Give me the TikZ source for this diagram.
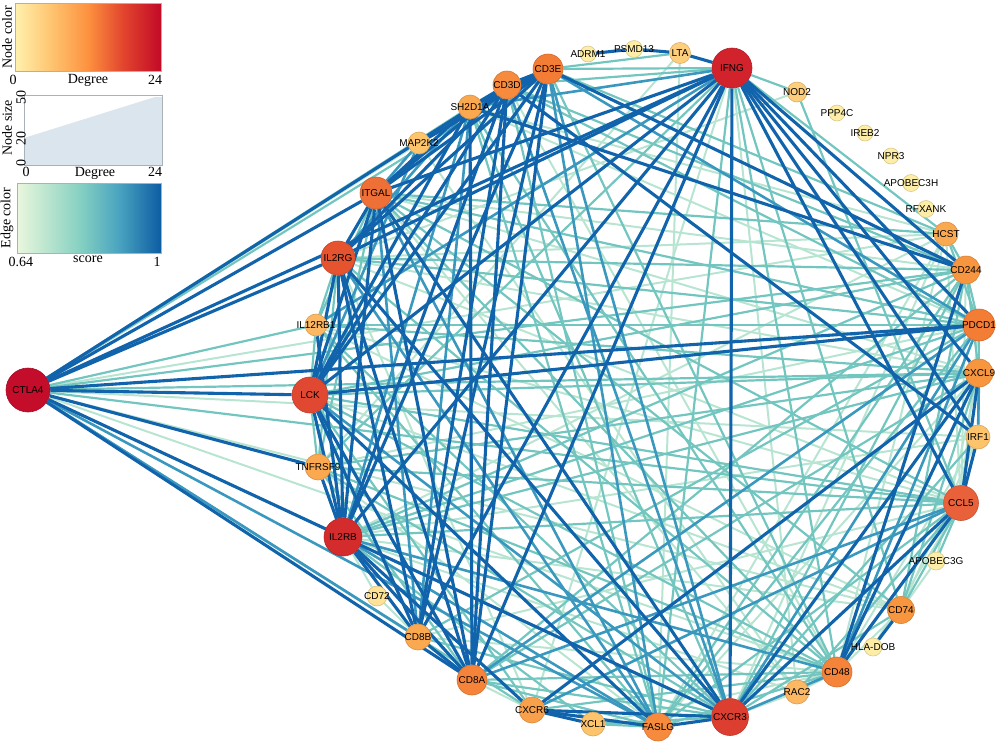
\documentclass[tikz,border=0pt]{standalone}
\usepackage{fontspec}
\setmainfont{Liberation Serif}
\newfontfamily\arialf{Liberation Sans}
\usetikzlibrary{backgrounds}
\definecolor{c1}{HTML}{C30D2B}
\definecolor{c2}{HTML}{D2232C}
\definecolor{c2b}{HTML}{D42B2C}
\definecolor{c3}{HTML}{DC3F30}
\definecolor{c4}{HTML}{E14832}
\definecolor{c5}{HTML}{E5532F}
\definecolor{c6}{HTML}{E8613A}
\definecolor{c7}{HTML}{EF7036}
\definecolor{c8}{HTML}{F47D35}
\definecolor{c9}{HTML}{F5843A}
\definecolor{c10}{HTML}{F78B3D}
\definecolor{c11}{HTML}{F8963F}
\definecolor{c12}{HTML}{F9A14A}
\definecolor{c13}{HTML}{FBA951}
\definecolor{c14}{HTML}{FCB862}
\definecolor{c15}{HTML}{FDC46B}
\definecolor{c16}{HTML}{FDCE7C}
\definecolor{c17}{HTML}{FEE295}
\definecolor{c18}{HTML}{FEEDA6}
\definecolor{ecd}{HTML}{1163AB}
\definecolor{ecm}{HTML}{3A98BF}
\definecolor{ect}{HTML}{72C6BF}
\definecolor{ecl}{HTML}{B8E4D2}
\definecolor{yl0}{HTML}{FFF1AE}
\definecolor{yl1}{HTML}{FEC672}
\definecolor{yl2}{HTML}{FD913F}
\definecolor{yl3}{HTML}{E2452D}
\definecolor{yl4}{HTML}{C20A28}
\definecolor{gb0}{HTML}{EAF7DD}
\definecolor{gb1}{HTML}{B3E2CD}
\definecolor{gb2}{HTML}{85D0C2}
\definecolor{gb3}{HTML}{4BA5C0}
\definecolor{gb4}{HTML}{0C5DA3}
\definecolor{boxgray}{HTML}{A9B1B9}
\definecolor{sizefill}{HTML}{DAE5EE}
\pgfdeclarehorizontalshading{nodecolsh}{100bp}{color(0bp)=(yl0); color(25bp)=(yl0); color(37bp)=(yl1); color(50bp)=(yl2); color(62bp)=(yl3); color(75bp)=(yl4); color(100bp)=(yl4)}
\pgfdeclarehorizontalshading{edgecolsh}{100bp}{color(0bp)=(gb0); color(25bp)=(gb0); color(37bp)=(gb1); color(47bp)=(gb2); color(60bp)=(gb3); color(75bp)=(gb4); color(100bp)=(gb4)}
\tikzset{
  lab/.style={font=\arialf\fontsize{10}{10}\selectfont, text=black, inner sep=0pt},
  gn/.style n args={3}{circle, inner sep=0pt, minimum size=#1pt, fill=#2, draw=#2!85!black, line width=0.6pt, label={[lab]center:#3}},
  eL/.style={draw=ecl, line width=2pt},
  eT/.style={draw=ect, line width=2.2pt},
  eM/.style={draw=ecm, line width=2.6pt},
  eD/.style={draw=ecd, line width=3.1pt},
  legtxt/.style={font=\fontsize{14}{14}\selectfont, inner sep=0pt},
  legbox/.style={draw=boxgray, line width=1pt}
}
\begin{document}
\begin{tikzpicture}[x=1pt,y=-1pt]
\useasboundingbox (0,0) rectangle (1000,745);
% nodes
\node[gn={44}{c1}{CTLA4}] (CTLA4) at (28,390) {};
\node[gn={40}{c2}{IFNG}] (IFNG) at (732,68) {};
\node[gn={38}{c2b}{IL2RB}] (IL2RB) at (343,537) {};
\node[gn={37}{c3}{CXCR3}] (CXCR3) at (730,717) {};
\node[gn={36}{c4}{LCK}] (LCK) at (310,395) {};
\node[gn={34}{c5}{IL2RG}] (IL2RG) at (338,258) {};
\node[gn={35}{c6}{CCL5}] (CCL5) at (961,503) {};
\node[gn={32}{c7}{ITGAL}] (ITGAL) at (376,193) {};
\node[gn={32}{c8}{PDCD1}] (PDCD1) at (979,325) {};
\node[gn={30}{c8}{CD3E}] (CD3E) at (548,69) {};
\node[gn={30}{c9}{CD8A}] (CD8A) at (472,680) {};
\node[gn={30}{c9}{CD48}] (CD48) at (837,672) {};
\node[gn={28}{c10}{CD3D}] (CD3D) at (507,85) {};
\node[gn={28}{c10}{FASLG}] (FASLG) at (658,727) {};
\node[gn={28}{c11}{CD244}] (CD244) at (966,270) {};
\node[gn={28}{c11}{CXCL9}] (CXCL9) at (979,373) {};
\node[gn={27}{c11}{CD74}] (CD74) at (901,610) {};
\node[gn={26}{c12}{CXCR6}] (CXCR6) at (532,710) {};
\node[gn={26}{c13}{TNFRSF9}] (TNFRSF9) at (318,467) {};
\node[gn={26}{c13}{CD8B}] (CD8B) at (418,637) {};
\node[gn={24}{c13}{SH2D1A}] (SH2D1A) at (470,107) {};
\node[gn={24}{c13}{HCST}] (HCST) at (946,234) {};
\node[gn={22}{c14}{IL12RB1}] (IL12RB1) at (316,325) {};
\node[gn={24}{c14}{RAC2}] (RAC2) at (797,692) {};
\node[gn={22}{c15}{MAP2K2}] (MAP2K2) at (419,143) {};
\node[gn={24}{c15}{IRF1}] (IRF1) at (978,437) {};
\node[gn={24}{c15}{XCL1}] (XCL1) at (593,724) {};
\node[gn={21}{c16}{LTA}] (LTA) at (680,53) {};
\node[gn={20}{c16}{NOD2}] (NOD2) at (797,92) {};
\node[gn={20}{c17}{CD72}] (CD72) at (377,596) {};
\node[gn={18}{c18}{HLA-DOB}] (HLADOB) at (873,647) {};
\node[gn={18}{c18}{APOBEC3G}] (APOBEC3G) at (936,561) {};
\node[gn={17}{c18}{RFXANK}] (RFXANK) at (926,209) {};
\node[gn={17}{c18}{APOBEC3H}] (APOBEC3H) at (911,183) {};
\node[gn={16}{c18}{NPR3}] (NPR3) at (891,156) {};
\node[gn={16}{c18}{IREB2}] (IREB2) at (865,133) {};
\node[gn={16}{c18}{PPP4C}] (PPP4C) at (837,113) {};
\node[gn={17}{c18}{PSMD13}] (PSMD13) at (634,49) {};
\node[gn={16}{c18}{ADRM1}] (ADRM1) at (588,54) {};
% edges
\begin{pgfonlayer}{background}
\foreach \a/\b in {CTLA4/MAP2K2, CTLA4/CD48, CTLA4/HCST, CTLA4/IRF1, CTLA4/CD74,
 IL2RG/CCL5, IL2RG/CXCL9, IL2RG/HCST, IL2RG/CXCR6, NOD2/IL2RG,
 LCK/CD74, IL2RB/CD72, IL2RB/RAC2, IL2RB/IRF1, IL2RB/HCST, IL2RB/CD74,
 CD8A/CXCR6, CD8B/CD48, CD8B/CCL5, CD8B/CD72, CD3D/CD48, SH2D1A/PDCD1, SH2D1A/HCST,
 ITGAL/CD244, ITGAL/CXCL9, ITGAL/RAC2, MAP2K2/RAC2, IFNG/CXCR6, IFNG/RAC2,
 LTA/FASLG, LTA/TNFRSF9, CXCR3/RAC2, CXCR3/HCST, FASLG/TNFRSF9, FASLG/CXCL9, FASLG/HCST,
 XCL1/CD48, CCL5/HLADOB, CCL5/CD244, CCL5/IL12RB1, CCL5/HCST, CD48/CD74, CD48/RAC2, CD48/HCST, CD48/IRF1,
 CD74/APOBEC3G, CD74/IRF1, CD74/IL12RB1, PDCD1/IRF1, PDCD1/TNFRSF9, PDCD1/CCL5, APOBEC3G/CXCL9}
 \draw[eL] (\a) -- (\b);
\foreach \a/\b in {CTLA4/CD3E, CTLA4/SH2D1A, CTLA4/IL12RB1, CTLA4/CXCR6, CTLA4/CXCR3, CTLA4/CCL5, CTLA4/CXCL9, CTLA4/CD244,
 IL2RG/IL12RB1, IL2RG/TNFRSF9, IL2RG/PDCD1, IL2RG/CD244, IL2RG/CD48,
 LCK/CD48, LCK/CD244, LCK/CXCL9, LCK/CCL5, LCK/TNFRSF9, LCK/IL12RB1, LCK/CXCR6,
 IL2RB/PDCD1, IL2RB/CD244, IL2RB/CCL5, IL2RB/CXCL9, IL2RB/XCL1,
 CD8A/CXCR3, CD8A/FASLG, CD8A/CD48, CD8A/CXCL9, CD8A/CD244, CD8A/TNFRSF9,
 CD8B/CXCR3, CD8B/PDCD1,
 CD3E/IFNG, CD3E/LTA, CD3E/CD48, CD3E/HCST,
 CD3D/IFNG, CD3D/FASLG, CD3D/PDCD1, CD3D/CD244,
 SH2D1A/CD48, SH2D1A/FASLG, SH2D1A/CXCR3, SH2D1A/MAP2K2,
 ITGAL/PDCD1, ITGAL/CCL5, ITGAL/CD48, ITGAL/HCST, ITGAL/CD74, ITGAL/IL12RB1, ITGAL/TNFRSF9,
 IFNG/NOD2, IFNG/FASLG, IFNG/CD48, IFNG/HCST, IFNG/CD74, IFNG/TNFRSF9,
 NOD2/CCL5,
 CXCR3/XCL1, CXCR3/CD244, CXCR3/IRF1, CXCR3/CD74, CXCR3/TNFRSF9, CXCR3/IL12RB1,
 FASLG/XCL1, FASLG/CD48, FASLG/CCL5, FASLG/PDCD1, FASLG/CD244, FASLG/IL12RB1,
 CXCR6/CD48, CCL5/CD74, CCL5/APOBEC3G, CCL5/RAC2, CCL5/TNFRSF9, CD48/TNFRSF9,
 CD74/CXCL9, CD74/CD244, PDCD1/CD244, PDCD1/CXCL9, PDCD1/HCST, PDCD1/IL12RB1,
 CXCL9/IRF1, CXCL9/CD244, CXCL9/TNFRSF9, CXCL9/IL12RB1, CD244/HCST}
 \draw[eT] (\a) -- (\b);
\foreach \a/\b in {CTLA4/CD8B, CTLA4/FASLG, IL2RG/SH2D1A, IL2RG/FASLG, LCK/CXCR3, MAP2K2/LCK,
 IL2RB/SH2D1A, IL2RB/CD48, IL2RB/FASLG, CD8A/PDCD1, CD8A/CCL5, CD8B/SH2D1A, CD8B/ITGAL,
 CD3E/CXCR3, CD3E/FASLG, CD3E/PDCD1, CD3D/CXCR3, CD3D/MAP2K2, SH2D1A/IFNG,
 ITGAL/MAP2K2, ITGAL/FASLG, IFNG/IL12RB1, CXCR3/CD48, CXCR3/PDCD1, CXCR6/CCL5, CD48/PDCD1, IRF1/CXCL9}
 \draw[eM] (\a) -- (\b);
\foreach \a/\b in {CTLA4/IL2RG, CTLA4/ITGAL, CTLA4/CD3D, CTLA4/LCK, CTLA4/TNFRSF9, CTLA4/IL2RB, CTLA4/CD8A, CTLA4/IFNG, CTLA4/PDCD1,
 IL2RG/ITGAL, IL2RG/CD3E, IL2RG/CD3D, IL2RG/IFNG, IL2RG/LCK, IL2RG/IL2RB, IL2RG/CD8A, IL2RG/CD8B, IL2RG/CXCR3,
 LCK/CD3E, LCK/CD3D, LCK/SH2D1A, LCK/ITGAL, LCK/IFNG, LCK/IL2RB, LCK/CD8A, LCK/CD8B, LCK/PDCD1, LCK/FASLG,
 IL2RB/CD3E, IL2RB/CD3D, IL2RB/ITGAL, IL2RB/IFNG, IL2RB/CD8A, IL2RB/CD8B, IL2RB/CXCR3, IL2RB/CXCR6, IL2RB/TNFRSF9, IL2RB/IL12RB1,
 CD8A/CD3E, CD8A/CD3D, CD8A/SH2D1A, CD8A/ITGAL, CD8A/IFNG, CD8A/CD8B,
 CD8B/CD3E, CD8B/CD3D, CD8B/IFNG,
 CD3E/CD3D, CD3E/SH2D1A, CD3E/ITGAL, CD3E/CD244, CD3E/MAP2K2,
 CD3D/SH2D1A, CD3D/ITGAL, CD3D/IRF1, SH2D1A/ITGAL, SH2D1A/CD244, ITGAL/IFNG, ITGAL/CXCR3,
 IFNG/LTA, IFNG/CXCR3, IFNG/CCL5, IFNG/CXCL9, IFNG/IRF1, IFNG/PDCD1, IFNG/CD244,
 CXCR3/FASLG, CXCR3/CCL5, CXCR3/CXCL9, CXCR3/CXCR6, FASLG/CXCR6, CXCR6/XCL1, CXCR6/CXCL9,
 CCL5/CXCL9, CCL5/CD48, CCL5/IRF1, CD48/CD244, CD48/CXCL9, CD74/HLADOB, ADRM1/PSMD13, PSMD13/LTA}
 \draw[eD] (\a) -- (\b);
\end{pgfonlayer}
% legend 1: node colour
\shade[shading=nodecolsh] (15,3) rectangle (161,71);
\draw[legbox] (15,3) rectangle (161,71);
\node[legtxt, rotate=90] (lgA) at (7,37) {Node color};
\node[legtxt] (lgA0) at (13,80) {0};
\node[legtxt] (lgAd) at (88,80) {Degree};
\node[legtxt] (lgA1) at (155,80) {24};
% legend 2: node size
\fill[sizefill] (24,138) -- (155,97) -- (162,97) -- (162,165) -- (24,165) -- cycle;
\draw[legbox] (24,95) rectangle (162,165);
\node[legtxt, rotate=90] (lgB) at (7,128) {Node size};
\node[legtxt, rotate=90] (lgB50) at (21,97) {50};
\node[legtxt, rotate=90] (lgB20) at (21,138) {20};
\node[legtxt, rotate=90] (lgB0) at (21,163) {0};
\node[legtxt] (lgB0x) at (26,172) {0};
\node[legtxt] (lgBd) at (95,173) {Degree};
\node[legtxt] (lgB1) at (155,172) {24};
% legend 3: edge colour
\shade[shading=edgecolsh] (17,183) rectangle (161,253);
\draw[legbox] (17,183) rectangle (161,253);
\node[legtxt, rotate=90] (lgC) at (7,218) {Edge color};
\node[legtxt] (lgC0) at (21,262) {0.64};
\node[legtxt] (lgCs) at (88,259) {score};
\node[legtxt] (lgC1) at (157,262) {1};
\end{tikzpicture}
\end{document}
